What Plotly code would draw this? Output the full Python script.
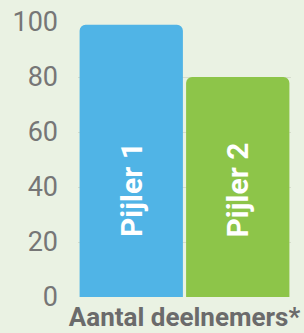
import plotly.graph_objects as go

categories = ["Pijler 1", "Pijler 2"]
values = [99, 80]
label_y = [39, 39]
colors = ["#50B4E6", "#8DC549"]
y_ticks = [0, 20, 40, 60, 80, 100]

fig = go.Figure()
fig.add_trace(go.Bar(
    x=categories, y=values, marker=dict(color=colors, line=dict(width=0)),
    hoverinfo="skip",
))
for c, ly in zip(categories, label_y):
    fig.add_annotation(x=c, y=ly, text="<b>%s</b>" % c, textangle=-90,
                       showarrow=False, font=dict(family="Roboto", size=30, color="white"))

fig.update_layout(
    width=304, height=333,
    margin=dict(l=78, r=13, t=22, b=36),
    paper_bgcolor="#EAF2E3", plot_bgcolor="#EAF2E3",
    bargap=0.03, barcornerradius=6,
    showlegend=False,
    font=dict(family="Roboto"),
)
fig.update_xaxes(
    showticklabels=False, showgrid=False, zeroline=False, showline=False,
    title=dict(text="<b>Aantal deelnemers*</b>", font=dict(size=26, color="#6B6B6B"), standoff=10),
    automargin=False,
)
fig.update_yaxes(
    range=[0, 100], tickvals=y_ticks, showgrid=True, gridcolor="#D5DCCC", gridwidth=1,
    zeroline=False, showline=False,
    tickfont=dict(size=27, color="#767676"), ticklabelstandoff=19,
    ticklabeloverflow="allow",
    automargin=False,
)
fig.write_html("out.html", config={"displayModeBar": False},
               post_script="document.body.style.margin='0';document.body.style.background='#EAF2E3';")
